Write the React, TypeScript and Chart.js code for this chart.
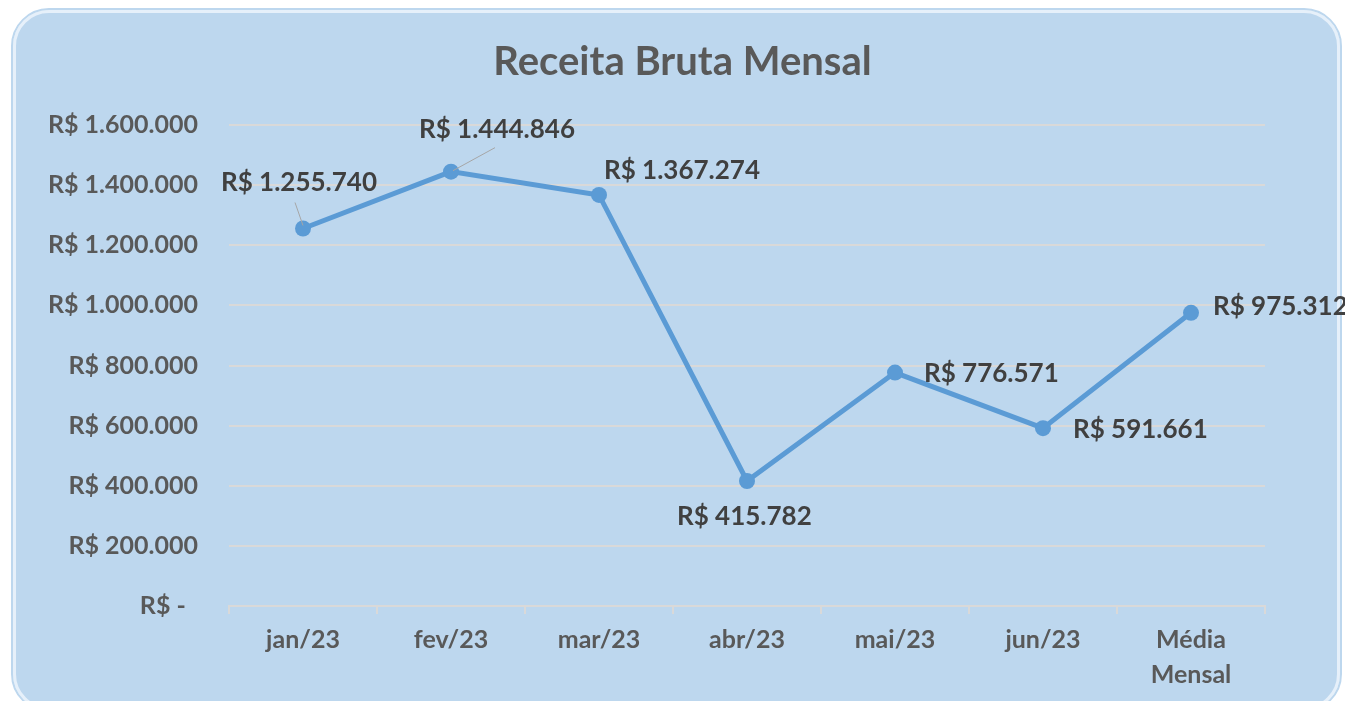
import React, { useEffect, useRef } from "react";
import { Chart, registerables } from "chart.js";

Chart.register(...registerables);

const categories: (string | string[])[] = ["jan/23", "fev/23", "mar/23", "abr/23", "mai/23", "jun/23", ["Média", "Mensal"]];
const receita = [1255740, 1444846, 1367274, 415782, 776571, 591661, 975312];
const yMin = 0;
const yMax = 1600000;
const yStep = 200000;
const titleText = "Receita Bruta Mensal";

// label placement relative to point (pixels): dx, dy, align, optional leader line
const labelPlacement = [
  { dx: -4, dy: -46, align: "center", leader: [[-8, -26], [0, -3]] },
  { dx: 46, dy: -42, align: "center", leader: [[44, -24], [2, -1]] },
  { dx: 5, dy: -24, align: "left", leader: null },
  { dx: -70, dy: 36, align: "left", leader: null },
  { dx: 29, dy: 1, align: "left", leader: null },
  { dx: 30, dy: 1, align: "left", leader: null },
  { dx: 22, dy: -6, align: "left", leader: null },
];

const FONT = "Lato, 'Open Sans', sans-serif";

function fmt(v: number): string {
  if (v === 0) return "R$ -  ";
  const s = Math.round(v).toString().replace(/\B(?=(\d{3})+(?!\d))/g, ".");
  return "R$ " + s;
}

const labelPlugin = {
  id: "pointLabels",
  afterDatasetsDraw(chart: any) {
    const ctx = chart.ctx;
    const meta = chart.getDatasetMeta(0);
    ctx.save();
    ctx.font = `bold 26px ${FONT}`;
    ctx.fillStyle = "#404040";
    ctx.textBaseline = "middle";
    meta.data.forEach((pt: any, i: number) => {
      const p = labelPlacement[i];
      const v = chart.data.datasets[0].data[i];
      if (p.leader) {
        ctx.strokeStyle = "#A6A6A6";
        ctx.lineWidth = 1;
        ctx.beginPath();
        ctx.moveTo(pt.x + p.leader[0][0], pt.y + p.leader[0][1]);
        ctx.lineTo(pt.x + p.leader[1][0], pt.y + p.leader[1][1]);
        ctx.stroke();
      }
      ctx.textAlign = p.align;
      ctx.fillText(fmt(v), pt.x + p.dx, pt.y + p.dy);
    });
    ctx.restore();
  },
};

const titlePlugin = {
  id: "pageTitle",
  afterDraw(chart: any) {
    const ctx = chart.ctx;
    ctx.save();
    ctx.font = `bold 40px ${FONT}`;
    ctx.fillStyle = "#595959";
    ctx.textAlign = "center";
    ctx.textBaseline = "middle";
    ctx.fillText(titleText, chart.width / 2 + 10, 62);
    ctx.restore();
  },
};

export default function App() {
  const ref = useRef<HTMLCanvasElement>(null);
  useEffect(() => {
    document.body.style.margin = "0";
    const chart = new Chart(ref.current!, {
      type: "line",
      data: {
        labels: categories,
        datasets: [
          {
            data: receita,
            borderColor: "#5B9BD5",
            backgroundColor: "#5B9BD5",
            borderWidth: 5,
            pointRadius: 8,
            pointHoverRadius: 8,
            pointBackgroundColor: "#5B9BD5",
            pointBorderWidth: 0,
            tension: 0,
          },
        ],
      },
      options: {
        responsive: false,
        animation: false,
        layout: { padding: { left: 0, right: 80, top: 125, bottom: 0 } },
        plugins: {
          legend: { display: false },
          tooltip: { enabled: false },
          title: { display: false },
        },
        scales: {
          x: {
            offset: true,
            afterFit: (s: any) => { s.height = 95; },
            grid: { offset: true, drawOnChartArea: false, drawTicks: true, tickLength: 8, color: "#D9D9D9", lineWidth: 2 },
            border: { display: true, color: "#D9D9D9", width: 2 },
            ticks: {
              color: "#595959",
              font: { family: FONT, size: 25, weight: "bold", lineHeight: 1.4 },
              padding: 8,
              maxRotation: 0,
              autoSkip: false,
            },
          },
          y: {
            min: yMin,
            max: yMax,
            afterFit: (s: any) => { s.width = 229; },
            grid: { color: "#D9D9D9", lineWidth: 2, drawTicks: false },
            border: { display: false },
            ticks: {
              stepSize: yStep,
              color: "#595959",
              font: { family: FONT, size: 25, weight: "bold" },
              padding: 31,
              callback: (v: any) => fmt(Number(v)),
            },
          },
        },
      },
      plugins: [labelPlugin, titlePlugin],
    });
    return () => chart.destroy();
  }, []);
  return (
    <div style={{ position: "fixed", left: 0, top: 0, width: 1345, height: 701, background: "#fff", overflow: "hidden" }}>
      <div
        style={{
          position: "absolute",
          left: 13,
          top: 10,
          width: 1327,
          height: 700,
          boxSizing: "border-box",
          background: "#BDD7EE",
          border: "3px solid #E6F0FA",
          outline: "2px solid #BDD7EE",
          borderRadius: 36,
        }}
      />
      <canvas ref={ref} width={1345} height={701} style={{ position: "absolute", left: 0, top: 0, display: "block" }} />
    </div>
  );
}
